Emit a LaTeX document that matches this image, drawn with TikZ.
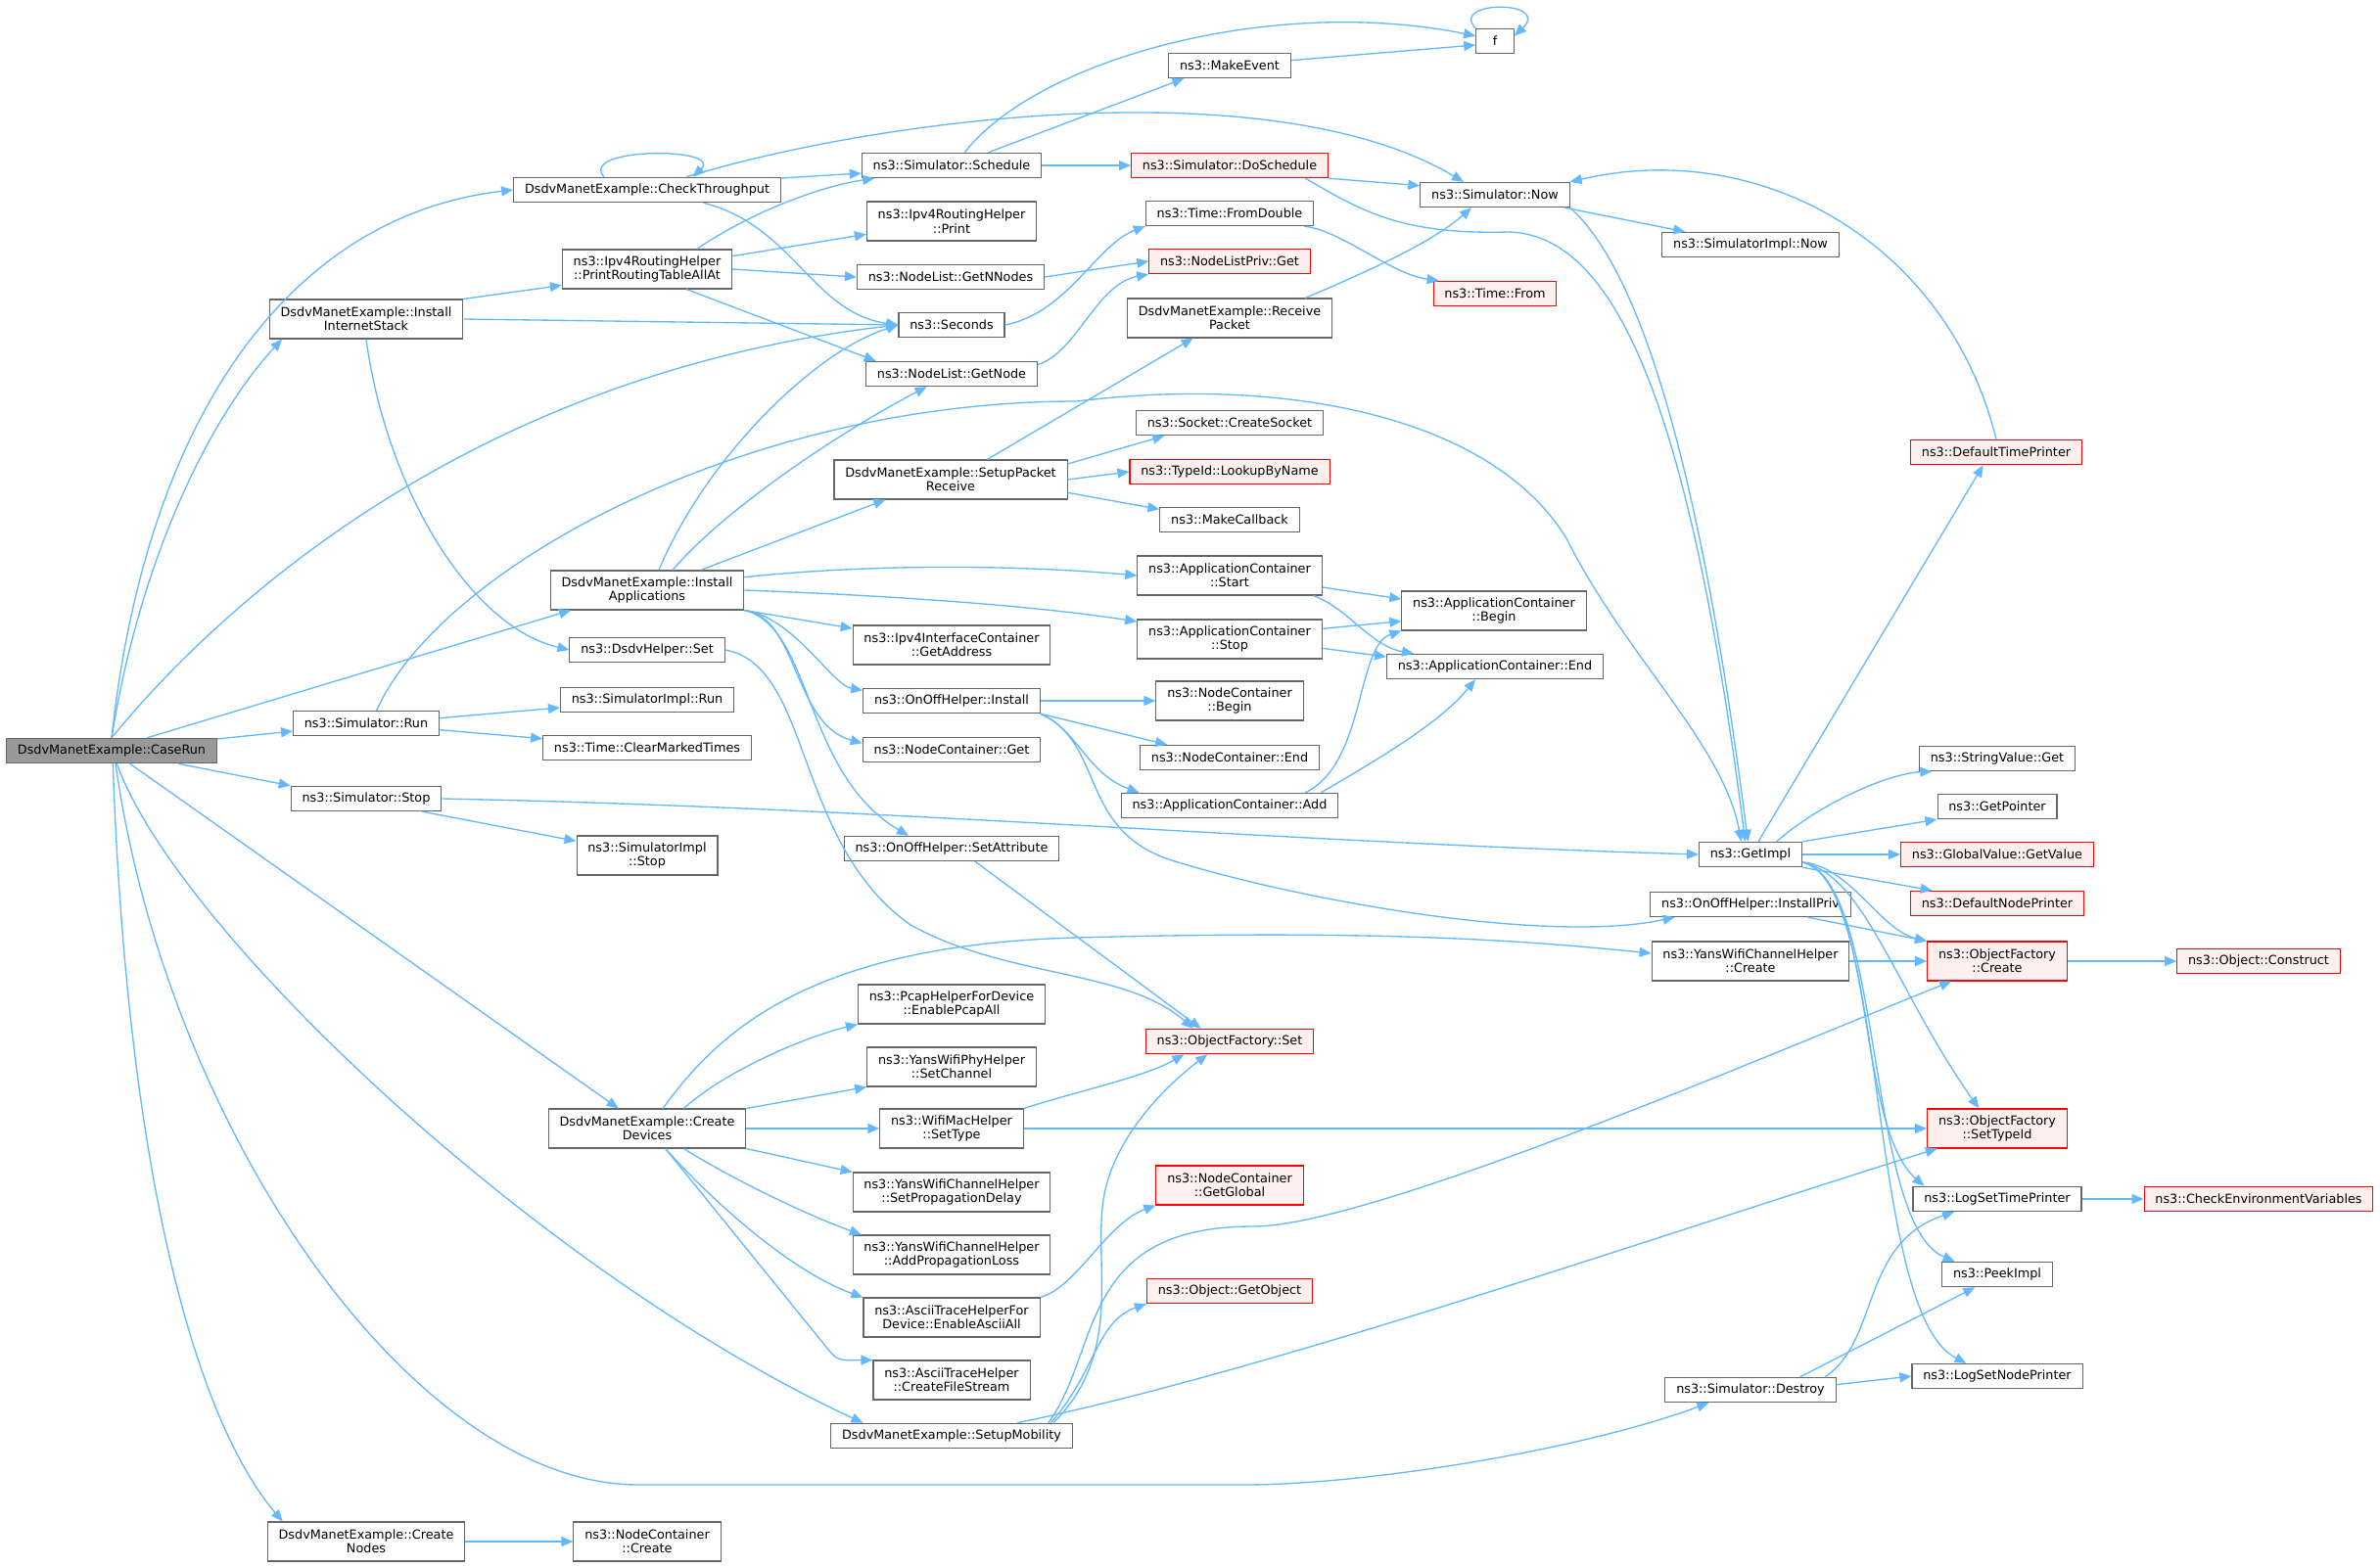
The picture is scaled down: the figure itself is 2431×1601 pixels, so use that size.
\documentclass[tikz,border=0pt]{standalone}
\usepackage{fontspec}
\setmainfont{DejaVu Sans}
\usetikzlibrary{arrows.meta}
\definecolor{edgeblue}{HTML}{63B8FF}
\definecolor{boxgray}{HTML}{666666}
\definecolor{rootgray}{HTML}{999999}
\definecolor{hotred}{HTML}{FF0000}
\definecolor{hotfill}{HTML}{FFF0F0}
\newcommand{\dfont}{\fontsize{9.6}{10.75}\selectfont}
\begin{document}
\begin{tikzpicture}[x=0.75pt,y=-0.75pt,
	fn/.style={rectangle,draw=boxgray,fill=white,line width=0.8pt,inner xsep=8.5pt,inner ysep=0pt,minimum height=19pt,align=center,font=\dfont},
	two/.style={minimum height=30pt},
	hot/.style={draw=hotred,fill=hotfill},
	root/.style={fill=rootgray},
	call/.style={draw=edgeblue,line width=1pt,-{Triangle[length=9pt,width=7.5pt]}}]
	 \useasboundingbox (0,0) rectangle (2431,1601);
	 \node at (114,767) [fn,root] (caserun) {DsdvManetExample::CaseRun};
	 \node at (661,194) [fn] (checkthru) {DsdvManetExample::CheckThroughput};
	 \node at (374,326) [fn,two] (inetstack) {DsdvManetExample::Install\\InternetStack};
	 \node at (661,275) [fn,two] (printall) {ns3::Ipv4RoutingHelper\\::PrintRoutingTableAllAt};
	 \node at (972,169) [fn] (schedule) {ns3::Simulator::Schedule};
	 \node at (972,226) [fn,two] (rtprint) {ns3::Ipv4RoutingHelper\\::Print};
	 \node at (971,283) [fn] (getnnodes) {ns3::NodeList::GetNNodes};
	 \node at (972,332) [fn] (seconds) {ns3::Seconds};
	 \node at (972,382) [fn] (getnode) {ns3::NodeList::GetNode};
	 \node at (971,490) [fn,two] (pktrecv) {DsdvManetExample::SetupPacket\\Receive};
	 \node at (1527,42) [fn,minimum width=29pt] (f) {f};
	 \node at (1256,67) [fn] (makeevent) {ns3::MakeEvent};
	 \node at (1256,169) [fn,hot] (doschedule) {ns3::Simulator::DoSchedule};
	 \node at (1527,199) [fn] (simnow) {ns3::Simulator::Now};
	 \node at (1256,218) [fn] (fromdouble) {ns3::Time::FromDouble};
	 \node at (1256,267) [fn,hot] (nlpget) {ns3::NodeListPriv::Get};
	 \node at (1256,325) [fn,two] (recvpkt) {DsdvManetExample::Receive\\Packet};
	 \node at (1788,250) [fn] (implnow) {ns3::SimulatorImpl::Now};
	 \node at (1527,300) [fn,hot] (timefrom) {ns3::Time::From};
	 \node at (1256,432) [fn] (createsock) {ns3::Socket::CreateSocket};
	 \node at (1256,482) [fn,hot] (lookup) {ns3::TypeId::LookupByName};
	 \node at (1256,531) [fn] (makecb) {ns3::MakeCallback};
	 \node at (2039,462) [fn,hot] (deftime) {ns3::DefaultTimePrinter};
	 \node at (661,603) [fn,two] (installapps) {DsdvManetExample::Install\\Applications};
	 \node at (661,664) [fn] (dsdvset) {ns3::DsdvHelper::Set};
	 \node at (972,659) [fn,two] (getaddr) {ns3::Ipv4InterfaceContainer\\::GetAddress};
	 \node at (661,715) [fn] (implrun) {ns3::SimulatorImpl::Run};
	 \node at (374,739) [fn] (simrun) {ns3::Simulator::Run};
	 \node at (972,716) [fn] (onoffinst) {ns3::OnOffHelper::Install};
	 \node at (661,764) [fn] (clearmarked) {ns3::Time::ClearMarkedTimes};
	 \node at (972,766) [fn] (ncget) {ns3::NodeContainer::Get};
	 \node at (374,816) [fn] (simstop) {ns3::Simulator::Stop};
	 \node at (972,867) [fn] (setattr) {ns3::OnOffHelper::SetAttribute};
	 \node at (661,874) [fn,two] (implstop) {ns3::SimulatorImpl\\::Stop};
	 \node at (972,1026) [fn,two] (pcap) {ns3::PcapHelperForDevice\\::EnablePcapAll};
	 \node at (1256,588) [fn,two] (acstart) {ns3::ApplicationContainer\\::Start};
	 \node at (1526,624) [fn,two] (acbegin) {ns3::ApplicationContainer\\::Begin};
	 \node at (1256,653) [fn,two] (acstop) {ns3::ApplicationContainer\\::Stop};
	 \node at (1527,681) [fn] (acend) {ns3::ApplicationContainer::End};
	 \node at (1256,716) [fn,two] (ncbegin) {ns3::NodeContainer\\::Begin};
	 \node at (1256,774) [fn] (ncend) {ns3::NodeContainer::End};
	 \node at (1256,823) [fn] (acadd) {ns3::ApplicationContainer::Add};
	 \node at (2040,775) [fn] (strget) {ns3::StringValue::Get};
	 \node at (2040,824) [fn] (getptr) {ns3::GetPointer};
	 \node at (1788,873) [fn] (getimpl) {ns3::GetImpl};
	 \node at (2040,873) [fn,hot] (getvalue) {ns3::GlobalValue::GetValue};
	 \node at (2040,923) [fn,hot] (defnode) {ns3::DefaultNodePrinter};
	 \node at (1788,924) [fn] (installpriv) {ns3::OnOffHelper::InstallPriv};
	 \node at (1788,982) [fn,two] (chancreate) {ns3::YansWifiChannelHelper\\::Create};
	 \node at (2040,982) [fn,hot,two] (ofcreate) {ns3::ObjectFactory\\::Create};
	 \node at (2307,982) [fn,hot] (construct) {ns3::Object::Construct};
	 \node at (1256,1064) [fn,hot] (ofset) {ns3::ObjectFactory::Set};
	 \node at (972,1090) [fn,two] (setchannel) {ns3::YansWifiPhyHelper\\::SetChannel};
	 \node at (661,1153) [fn,two] (createdev) {DsdvManetExample::Create\\Devices};
	 \node at (972,1153) [fn,two] (settype) {ns3::WifiMacHelper\\::SetType};
	 \node at (972,1218) [fn,two] (propdelay) {ns3::YansWifiChannelHelper\\::SetPropagationDelay};
	 \node at (972,1282) [fn,two] (proploss) {ns3::YansWifiChannelHelper\\::AddPropagationLoss};
	 \node at (972,1346) [fn,two] (asciiall) {ns3::AsciiTraceHelperFor\\Device::EnableAsciiAll};
	 \node at (972,1410) [fn,two] (filestream) {ns3::AsciiTraceHelper\\::CreateFileStream};
	 \node at (972,1467) [fn] (mobility) {DsdvManetExample::SetupMobility};
	 \node at (374,1575) [fn,two] (createnodes) {DsdvManetExample::Create\\Nodes};
	 \node at (661,1575) [fn,two] (nccreate) {ns3::NodeContainer\\::Create};
	 \node at (1256,1211) [fn,hot,two] (getglobal) {ns3::NodeContainer\\::GetGlobal};
	 \node at (1256,1319) [fn,hot] (getobject) {ns3::Object::GetObject};
	 \node at (2040,1153) [fn,hot,two] (settypeid) {ns3::ObjectFactory\\::SetTypeId};
	 \node at (2040,1225) [fn] (logtime) {ns3::LogSetTimePrinter};
	 \node at (2307,1225) [fn,hot] (checkenv) {ns3::CheckEnvironmentVariables};
	 \node at (2040,1302) [fn] (peekimpl) {ns3::PeekImpl};
	 \node at (2040,1406) [fn] (lognode) {ns3::LogSetNodePrinter};
	 \node at (1788,1420) [fn] (destroy) {ns3::Simulator::Destroy};

	 \draw[call] (caserun.north) .. controls (150,420) and (300,220) .. (checkthru.west);
	 \draw[call] (caserun.north) .. controls (145,560) and (220,420) .. ([xshift=10]inetstack.south west);
	 \draw[call] (caserun.north) .. controls (240,600) and (500,380) .. (seconds.west);
	 \draw[call] (caserun.20) -- ([xshift=16]installapps.south west);
	 \draw[call] ([yshift=9]caserun.east) -- ([yshift=-6]simrun.west);
	 \draw[call] ([xshift=-30]caserun.south east) -- (simstop.north west);
	 \draw[call] ([xshift=14]caserun.south) -- ([xshift=-22]createdev.north);
	 \draw[call] ([xshift=4]caserun.south) .. controls (180,950) and (550,1300) .. ([xshift=25]mobility.north west);
	 \draw[call] ([xshift=3]caserun.south) .. controls (170,1150) and (420,1517) .. (652,1517) -- (1270,1517) .. controls (1400,1517) and (1620,1480) .. ([xshift=-32]destroy.south);
	 \draw[call] ([xshift=1]caserun.south) .. controls (130,1200) and (200,1450) .. ([xshift=12]createnodes.north west);

	 \draw[call] ([xshift=-33]checkthru.north) .. controls (590,150) and (740,150) .. ([xshift=35]checkthru.north);
	 \draw[call] ([yshift=9]checkthru.east) -- ([yshift=-6]schedule.west);
	 \draw[call] ([xshift=30]checkthru.north) .. controls (900,120) and (1300,70) .. ([xshift=-24]simnow.north);
	 \draw[call] ([xshift=43]checkthru.south) .. controls (810,230) and (830,320) .. (seconds.west);
	 \draw[call] (inetstack.north east) -- ([yshift=3]printall.south west);
	 \draw[call] (inetstack.east) -- (seconds.west);
	 \draw[call] (inetstack.south) .. controls (395,500) and (480,640) .. (dsdvset.west);
	 \draw[call] ([xshift=38]printall.north) .. controls (770,215) and (840,190) .. ([xshift=10]schedule.south west);
	 \draw[call] ([yshift=10]printall.east) -- ([yshift=-10]rtprint.west);
	 \draw[call] (printall.east) -- (getnnodes.west);
	 \draw[call] ([xshift=30]printall.south) -- ([xshift=-58]getnode.north);

	 \draw[call] (schedule.east) -- (doschedule.west);
	 \draw[call] ([xshift=28]schedule.north) -- ([xshift=-35]makeevent.south);
	 \draw[call] ([xshift=10]schedule.north) .. controls (1060,60) and (1300,-5) .. ([yshift=4]f.west);
	 \draw[call] ([yshift=4]makeevent.east) -- ([yshift=-3]f.west);
	 \draw[call] (f.north west) .. controls (1480,0) and (1585,0) .. ([yshift=4]f.east);
	 \draw[call] (doschedule.south east) -- ([yshift=7]simnow.west);
	 \draw[call] ([xshift=58]doschedule.south) .. controls (1390,215) and (1430,240) .. (1541,237) .. controls (1660,240) and (1730,450) .. ([xshift=-4]getimpl.north);
	 \draw[call] (simnow.south east) .. controls (1680,280) and (1740,500) .. ([xshift=-2]getimpl.north);
	 \draw[call] ([xshift=-4]simnow.south east) -- ([xshift=-50]implnow.north);
	 \draw[call] (deftime.north) .. controls (1990,250) and (1800,140) .. (simnow.north east);
	 \draw[call] ([xshift=58]recvpkt.north) .. controls (1390,280) and (1460,250) .. ([xshift=-18]simnow.south);
	 \draw[call] (seconds.east) .. controls (1090,320) and (1120,250) .. (fromdouble.south west);
	 \draw[call] ([xshift=57]fromdouble.south) .. controls (1370,235) and (1420,280) .. ([xshift=-43]timefrom.north);
	 \draw[call] (getnnodes.east) -- (nlpget.west);
	 \draw[call] ([yshift=7]getnode.east) .. controls (1100,360) and (1120,290) .. (nlpget.south west);

	 \draw[call] ([xshift=9]installapps.north) .. controls (720,470) and (830,360) .. (seconds.west);
	 \draw[call] ([xshift=19.5]installapps.north) .. controls (740,520) and (860,440) .. ([xshift=-19]getnode.south);
	 \draw[call] ([xshift=41]installapps.north) -- ([xshift=-50]pktrecv.south);
	 \draw[call] ([yshift=10]installapps.east) .. controls (900,575) and (1050,578) .. (acstart.west);
	 \draw[call] (installapps.east) .. controls (900,608) and (1050,618) .. ([yshift=13.5]acstop.west);
	 \draw[call] (installapps.south east) -- ([yshift=12.75]getaddr.west);
	 \draw[call] (installapps.south east) .. controls (810,630) and (850,700) .. ([yshift=8]onoffinst.west);
	 \draw[call] (installapps.south east) .. controls (815,630) and (810,740) .. ([yshift=5]ncget.west);
	 \draw[call] (installapps.south east) .. controls (830,640) and (820,790) .. ([xshift=-33]setattr.north);
	 \draw[call] (dsdvset.east) .. controls (830,680) and (810,860) .. (930,945) .. controls (1030,1000) and (1150,990) .. ([xshift=-28]ofset.north);
	 \draw[call] ([xshift=18]setattr.south) -- ([xshift=-22]ofset.north);

	 \draw[call] ([yshift=4]simrun.east) -- ([yshift=-6]implrun.west);
	 \draw[call] ([yshift=-5]simrun.east) -- ([yshift=7]clearmarked.west);
	 \draw[call] ([xshift=8]simrun.north) .. controls (450,580) and (760,410) .. (1100,410) .. controls (1300,385) and (1520,420) .. (1600,550) .. controls (1660,670) and (1760,760) .. ([xshift=-7]getimpl.north);
	 \draw[call] ([xshift=43]simstop.south) -- ([yshift=11]implstop.west);
	 \draw[call] (simstop.east) .. controls (900,825) and (1300,860) .. (getimpl.west);

	 \draw[call] ([xshift=28]pktrecv.north) -- ([xshift=-28]recvpkt.south);
	 \draw[call] ([yshift=12]pktrecv.east) -- ([xshift=-50]createsock.south);
	 \draw[call] (pktrecv.east) -- (lookup.west);
	 \draw[call] ([yshift=-10]pktrecv.east) -- ([yshift=8]makecb.west);

	 \draw[call] (onoffinst.east) -- (ncbegin.west);
	 \draw[call] (onoffinst.south east) -- ([xshift=21]ncend.north west);
	 \draw[call] (onoffinst.south east) .. controls (1100,745) and (1110,790) .. ([xshift=14]acadd.north west);
	 \draw[call] (onoffinst.south east) .. controls (1130,760) and (1100,850) .. (1200,880) .. controls (1330,920) and (1580,965) .. ([xshift=-58]installpriv.south);
	 \draw[call] ([yshift=-9]acstart.east) -- ([yshift=9]acbegin.west);
	 \draw[call] ([xshift=-7]acstart.south east) .. controls (1375,620) and (1400,660) .. ([xshift=21]acend.north west);
	 \draw[call] ([yshift=8]acstop.east) -- ([yshift=-8]acbegin.west);
	 \draw[call] ([yshift=-7]acstop.east) -- ([yshift=7.5]acend.west);
	 \draw[call] ([xshift=58]acadd.north) .. controls (1395,780) and (1385,660) .. (acbegin.south west);
	 \draw[call] ([xshift=70]acadd.north) .. controls (1400,780) and (1470,740) .. ([xshift=-15]acend.south);

	 \draw[call] ([xshift=6]getimpl.north) -- ([xshift=-10]deftime.south);
	 \draw[call] ([xshift=20]getimpl.north) .. controls (1860,820) and (1930,790) .. ([xshift=-50]strget.south);
	 \draw[call] (getimpl.north east) -- (getptr.south west);
	 \draw[call] (getimpl.east) -- (getvalue.west);
	 \draw[call] (getimpl.south east) -- ([xshift=17]defnode.north west);
	 \draw[call] ([yshift=4]getimpl.south east) .. controls (1890,885) and (1920,950) .. (ofcreate.north west);
	 \draw[call] ([yshift=4]getimpl.south east) .. controls (1905,895) and (1935,1010) .. ([xshift=-14]settypeid.north);
	 \draw[call] ([yshift=4]getimpl.south east) .. controls (1915,900) and (1895,1150) .. ([xshift=9]logtime.north west);
	 \draw[call] ([yshift=4]getimpl.south east) .. controls (1925,900) and (1905,1250) .. ([xshift=10]peekimpl.north west);
	 \draw[call] ([yshift=4]getimpl.south east) .. controls (1930,900) and (1905,1340) .. ([xshift=42]lognode.north west);
	 \draw[call] ([xshift=44]installpriv.south) -- (ofcreate.north west);
	 \draw[call] (chancreate.east) -- (ofcreate.west);
	 \draw[call] (ofcreate.east) -- (construct.west);

	 \draw[call] ([xshift=12]createdev.north) .. controls (730,1060) and (820,965) .. (1100,958) .. controls (1400,950) and (1550,960) .. ([yshift=6]chancreate.west);
	 \draw[call] ([xshift=28]createdev.north) .. controls (740,1095) and (820,1060) .. (pcap.south west);
	 \draw[call] (createdev.north east) -- (setchannel.south west);
	 \draw[call] (createdev.east) -- (settype.west);
	 \draw[call] (createdev.south east) -- (propdelay.north west);
	 \draw[call] ([xshift=28]createdev.south) .. controls (740,1200) and (820,1240) .. ([xshift=7]proploss.north west);
	 \draw[call] ([xshift=14]createdev.south) .. controls (730,1230) and (810,1300) .. (asciiall.north west);
	 \draw[call] ([xshift=14]createdev.south) -- (843,1375) .. controls (855,1390) .. (filestream.north west);
	 \draw[call] (settype.north east) .. controls (1100,1115) and (1170,1100) .. ([xshift=-35]ofset.south);
	 \draw[call] (settype.east) -- (settypeid.west);
	 \draw[call] (asciiall.north east) .. controls (1100,1315) and (1130,1250) .. (getglobal.south west);

	 \draw[call] ([xshift=78]mobility.north) .. controls (1150,1380) and (1115,1290) .. (1128,1220) .. controls (1140,1160) and (1190,1110) .. ([xshift=-17]ofset.south);
	 \draw[call] ([xshift=76]mobility.north) .. controls (1120,1400) and (1120,1350) .. (getobject.south west);
	 \draw[call] ([xshift=74]mobility.north) .. controls (1125,1380) and (1100,1253) .. (1280,1253) .. controls (1400,1253) and (1800,1080) .. ([xshift=-35]ofcreate.south);
	 \draw[call] ([xshift=50]mobility.north) .. controls (1300,1400) and (1700,1260) .. ([xshift=8]settypeid.south west);

	 \draw[call] ([xshift=57]destroy.north) .. controls (1920,1370) and (1900,1270) .. ([xshift=-33]logtime.south);
	 \draw[call] ([xshift=38]destroy.north) -- ([xshift=-17]peekimpl.south);
	 \draw[call] ([yshift=4]destroy.east) -- (lognode.west);
	 \draw[call] (logtime.east) -- (checkenv.west);
	 \draw[call] (createnodes.east) -- (nccreate.west);

\end{tikzpicture}
\end{document}
